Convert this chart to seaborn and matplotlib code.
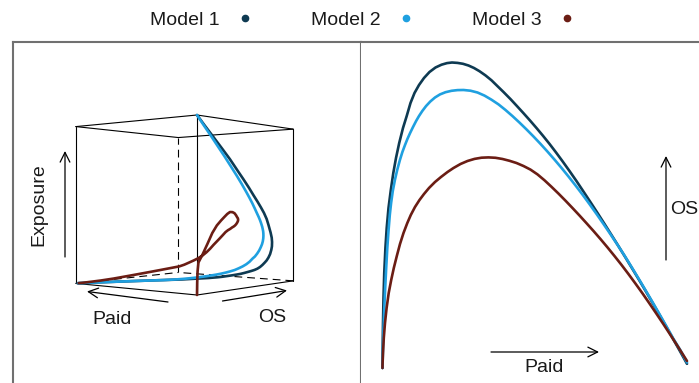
import numpy as np
import pandas as pd
import matplotlib
matplotlib.use("Agg")
import matplotlib.pyplot as plt
from matplotlib.patches import FancyArrowPatch
from matplotlib.lines import Line2D
import seaborn as sns

# ---------------------------------------------------------------------------
# Data: paid, outstanding (OS) and exposure trajectories of the three models
# ---------------------------------------------------------------------------
models = ["Model 1", "Model 2", "Model 3"]
colors = ["#0e3a52", "#1fa0e0", "#6b1d14"]

paid_m1 = [0, 0.05, 0.17, 0.33, 0.58, 0.97, 1.4, 2.0, 2.77, 3.6, 4.5, 5.57, 6.83,
           8.07, 9.33, 10.67, 12.17, 13.83, 15.67, 17.67, 19.67, 21.5, 23.17, 25.0,
           26.83, 28.67, 30.5, 32.33, 34.33, 36.33, 38.17, 40.33, 42.67, 44.83, 47.0,
           49.17, 51.33, 53.5, 55.67, 57.83, 60.0, 62.33, 64.67, 67.0, 69.33, 71.67,
           74.0, 76.33, 78.67, 81.0, 83.33, 85.67, 88.0, 90.33, 92.67, 95.0, 97.33,
           99.33, 101.5]
os_m1 = [0, 6.67, 15.0, 23.33, 31.67, 40.0, 46.67, 53.33, 59.33, 65.0, 70.0, 75.0,
         80.0, 84.0, 88.33, 91.67, 94.33, 96.67, 98.67, 100.17, 101.1, 101.63, 101.83,
         101.7, 101.4, 100.83, 100.0, 98.93, 97.53, 95.9, 94.1, 92.0, 89.63, 87.3,
         84.93, 82.5, 80.0, 77.4, 74.7, 71.87, 68.93, 65.67, 62.3, 58.8, 55.27, 51.67,
         48.03, 44.33, 40.6, 36.83, 33.0, 29.13, 25.2, 21.2, 17.13, 13.03, 8.87, 5.3,
         1.4]
exposure_m1 = [100, 95, 89, 83, 77, 70.5, 65.5, 60.5, 56, 52, 48.5, 45, 41, 37, 32,
               28.5, 25.5, 22.5, 20, 17, 14.5, 12.5, 11, 9.3, 7.8, 6.6, 5.7, 5, 4.3,
               3.6, 3, 2.5, 2, 1.6, 1.2, 0.9, 0.7, 0.5, 0.4, 0.3, 0.2, 0.1, 0, 0, 0, 0,
               0, 0, 0, 0, 0, 0, 0, 0, 0, 0, 0, 0, 0]

paid_m2 = [0, 0.15, 0.35, 0.6, 0.9, 1.23, 1.6, 2.0, 2.43, 2.87, 3.43, 4.13, 4.9, 5.8,
           6.63, 7.5, 8.3, 9.2, 10.17, 11.2, 12.17, 13.27, 14.53, 15.93, 17.5, 19.17,
           21.0, 23.0, 25.0, 27.0, 29.33, 31.67, 34.0, 36.33, 38.67, 41.0, 43.33,
           45.67, 48.0, 50.33, 52.67, 55.0, 57.33, 59.67, 62.0, 64.33, 66.67, 69.0,
           71.33, 73.67, 76.0, 78.33, 80.67, 83.0, 85.33, 87.67, 90.0, 92.33, 94.67,
           97.0, 99.33, 101.5]
os_m2 = [0, 6.67, 13.33, 20.0, 26.67, 33.33, 40.0, 45.67, 51.0, 55.0, 59.0, 62.67,
         66.0, 69.33, 72.0, 74.33, 76.33, 78.33, 80.33, 82.33, 84.0, 85.67, 87.33,
         88.83, 90.17, 91.2, 91.93, 92.4, 92.63, 92.67, 92.43, 91.83, 90.8, 89.43,
         87.87, 86.0, 83.97, 81.8, 79.53, 77.17, 74.7, 72.13, 69.47, 66.7, 63.83,
         60.87, 57.8, 54.63, 51.37, 48.0, 44.57, 41.07, 37.47, 33.7, 29.87, 25.93,
         21.97, 17.93, 13.83, 9.67, 5.87, 1.83]
exposure_m2 = [100, 94.5, 89.2, 83.8, 78.5, 73, 67.5, 62.7, 58, 54.5, 51, 47.8, 45,
               42.5, 40.5, 38.8, 37.3, 36, 34.5, 33, 31.5, 29.8, 28, 26, 24, 22, 19.7,
               17.5, 15.5, 14, 11.8, 10, 8.5, 7.2, 6, 5.1, 4.3, 3.6, 3, 2.5, 2, 1.6,
               1.2, 0.9, 0.6, 0.4, 0.2, 0.1, 0, 0, 0, 0, 0, 0, 0, 0, 0, 0, 0, 0, 0, 0]

paid_m3 = [0, 0, 0, 0.02, 0.17, 0.43, 0.83, 1.37, 2.07, 2.9, 3.77, 4.77, 5.83, 7.0,
           8.27, 9.43, 10.83, 12.33, 13.83, 15.5, 17.5, 19.5, 21.67, 23.67, 26.0,
           28.33, 30.67, 33.0, 35.33, 37.67, 40.0, 42.33, 44.67, 47.0, 49.33, 51.67,
           54.0, 56.33, 58.67, 61.0, 63.33, 65.67, 68.0, 70.33, 72.67, 75.0, 77.33,
           79.67, 82.0, 84.33, 86.67, 89.0, 91.33, 93.67, 96.0, 98.33, 100.33, 101.5]
os_m3 = [0, 0.17, 0.5, 1.33, 5.0, 10.0, 15.0, 20.0, 25.0, 29.33, 33.33, 37.33, 41.33,
         45.0, 48.33, 51.0, 53.67, 56.0, 58.0, 60.0, 62.0, 63.67, 65.33, 66.67, 68.0,
         69.0, 69.7, 70.1, 70.2, 70.07, 69.67, 69.07, 68.33, 67.33, 66.13, 64.53,
         62.57, 60.4, 58.13, 55.77, 53.33, 50.83, 48.27, 45.67, 42.97, 40.2, 37.33,
         34.37, 31.3, 28.13, 24.87, 21.5, 18.07, 14.57, 11.0, 7.37, 4.2, 2.33]
exposure_m3 = [0, 7, 13, 18, 22, 28, 34, 38.2, 41, 43, 44.7, 45.8, 45.7, 45, 43.7,
               42.5, 41.8, 41, 40.4, 39.7, 38.8, 37.8, 36.9, 36.2, 35.5, 34.5, 33.6,
               32.3, 30.3, 28.2, 26, 23.7, 21.1, 18.7, 16.6, 14.8, 13.3, 11.9, 10.5,
               9.4, 8.8, 8.2, 7.6, 7.0, 6.4, 5.8, 5.2, 4.6, 4.0, 3.4, 2.8, 2.2, 1.7,
               1.2, 0.8, 0.4, 0.1, 0]

series = {
    "Model 1": (paid_m1, os_m1, exposure_m1),
    "Model 2": (paid_m2, os_m2, exposure_m2),
    "Model 3": (paid_m3, os_m3, exposure_m3),
}

# ---------------------------------------------------------------------------
# Perspective view of the (Paid, OS, Exposure) cube
# ---------------------------------------------------------------------------
CLAIM_MAX = 101.5     # paid / OS extent of the cube
EXPO_MAX = 100.0      # exposure extent of the cube
SIN_A, COS_A = 0.783, 0.621   # horizontal viewing angle
EYE_DIST = 4.2                # eye distance from the front edge (cube units)
EYE_X = 0.07                  # horizontal offset of the eye


def project(paid, os_, expo):
    p = np.asarray(paid, float) / CLAIM_MAX
    o = np.asarray(os_, float) / CLAIM_MAX
    e = np.asarray(expo, float) / EXPO_MAX
    horiz = -p * SIN_A + o * COS_A
    depth = p * COS_A + o * SIN_A
    s = EYE_DIST / (EYE_DIST + depth)
    return s * (horiz - EYE_X), s * (e - 0.5)


frames = []
for name in models:
    pd_, os_, ex_ = series[name]
    u, v = project(pd_, os_, ex_)
    frames.append(pd.DataFrame({"model": name, "paid": pd_, "os": os_,
                                "exposure": ex_, "u": u, "v": v}))
df = pd.concat(frames, ignore_index=True)

# ---------------------------------------------------------------------------
# Figure
# ---------------------------------------------------------------------------
sns.set_theme(style="white")
plt.rcParams["font.family"] = ["Liberation Sans", "DejaVu Sans"]
plt.rcParams["lines.solid_joinstyle"] = "round"
plt.rcParams["lines.solid_capstyle"] = "round"

W, H = 699, 383
fig = plt.figure(figsize=(W / 100, H / 100), dpi=100)


def box(x0, y0, x1, y1):
    return [x0 / W, 1 - y1 / H, (x1 - x0) / W, (y1 - y0) / H]


def fp(x, y):
    return (x / W, 1 - y / H)


frame_col = "#707070"
axL = fig.add_axes(box(13, 42, 361, 400))
axR = fig.add_axes(box(361, 42, 720, 400))
for ax in (axL, axR):
    for sp in ax.spines.values():
        sp.set_color(frame_col)
        sp.set_linewidth(1.5)
    ax.spines["bottom"].set_visible(False)
axR.spines["left"].set_visible(False)

palette = dict(zip(models, colors))

# ---- left: 3-D trajectories inside the cube ----
corners = {}
for ip in (0, CLAIM_MAX):
    for io in (0, CLAIM_MAX):
        for ie in (0, EXPO_MAX):
            corners[(ip, io, ie)] = project(ip, io, ie)
hidden = (CLAIM_MAX, CLAIM_MAX, 0)
tops = (CLAIM_MAX, CLAIM_MAX, EXPO_MAX)
for c in corners:
    for k in range(3):
        if c[k] == 0:
            d = list(c)
            d[k] = tops[k]
            d = tuple(d)
            (ua, va), (ub, vb) = corners[c], corners[d]
            dashed = hidden in (c, d)
            axL.plot([ua, ub], [va, vb], color="black", lw=0.8,
                     ls=(0, (7, 4.5)) if dashed else "-", zorder=1)

sns.lineplot(data=df, x="u", y="v", hue="model", palette=palette, sort=False,
             estimator=None, lw=1.9, legend=False, ax=axL, zorder=3)
axL.set_xlim((13 - 209.6) / 180, (361 - 209.6) / 180)
axL.set_ylim((205 - 400) / 180, (205 - 42) / 180)

# ---- right: Paid vs OS ----
sns.lineplot(data=df, x="paid", y="os", hue="model", palette=palette, sort=False,
             estimator=None, lw=1.9, legend=False, ax=axR)
axR.set_xlim((361 - 382.5) / 3, (720 - 382.5) / 3)
axR.set_ylim((368 - 400) / 3, (368 - 42) / 3)

for ax in (axL, axR):
    ax.set_xticks([])
    ax.set_yticks([])
    ax.set_xlabel("")
    ax.set_ylabel("")

# ---- direction arrows and labels ----
arrow = dict(arrowstyle="->,head_length=0.5,head_width=0.25", lw=0.9,
             color="black", shrinkA=0, shrinkB=0, mutation_scale=14)


def draw_arrow(x0, y0, x1, y1):
    fig.add_artist(FancyArrowPatch(fp(x0, y0), fp(x1, y1),
                                   transform=fig.transFigure, **arrow))


draw_arrow(65, 257, 65, 151)        # exposure
draw_arrow(168, 302, 87, 291.5)     # paid (cube)
draw_arrow(222.5, 301, 287, 290.5)  # os (cube)
draw_arrow(491, 352, 599, 352)      # paid
draw_arrow(666, 260, 666, 156)      # os

tk = dict(fontsize=14, color="#1a1a1a")
fig.text(*fp(39, 205), "Exposure", rotation=90, ha="center", va="center", **tk)
fig.text(*fp(112, 320), "Paid", ha="center", va="center", **tk)
fig.text(*fp(272, 318), "OS", ha="center", va="center", **tk)
fig.text(*fp(544, 368), "Paid", ha="center", va="center", **tk)
fig.text(*fp(670, 210), "OS", ha="left", va="center", **tk)

# ---- legend ----
handles = [Line2D([], [], marker="o", ls="", color=c, markersize=4.5) for c in colors]
fig.legend(handles, models, loc="center", bbox_to_anchor=fp(363, 20), ncol=3,
           frameon=False, markerfirst=False, handlelength=1.0,
           handletextpad=0.8, columnspacing=2.9, fontsize=14, borderpad=0,
           labelcolor="#1a1a1a")

fig.savefig("out.png", dpi=100)
